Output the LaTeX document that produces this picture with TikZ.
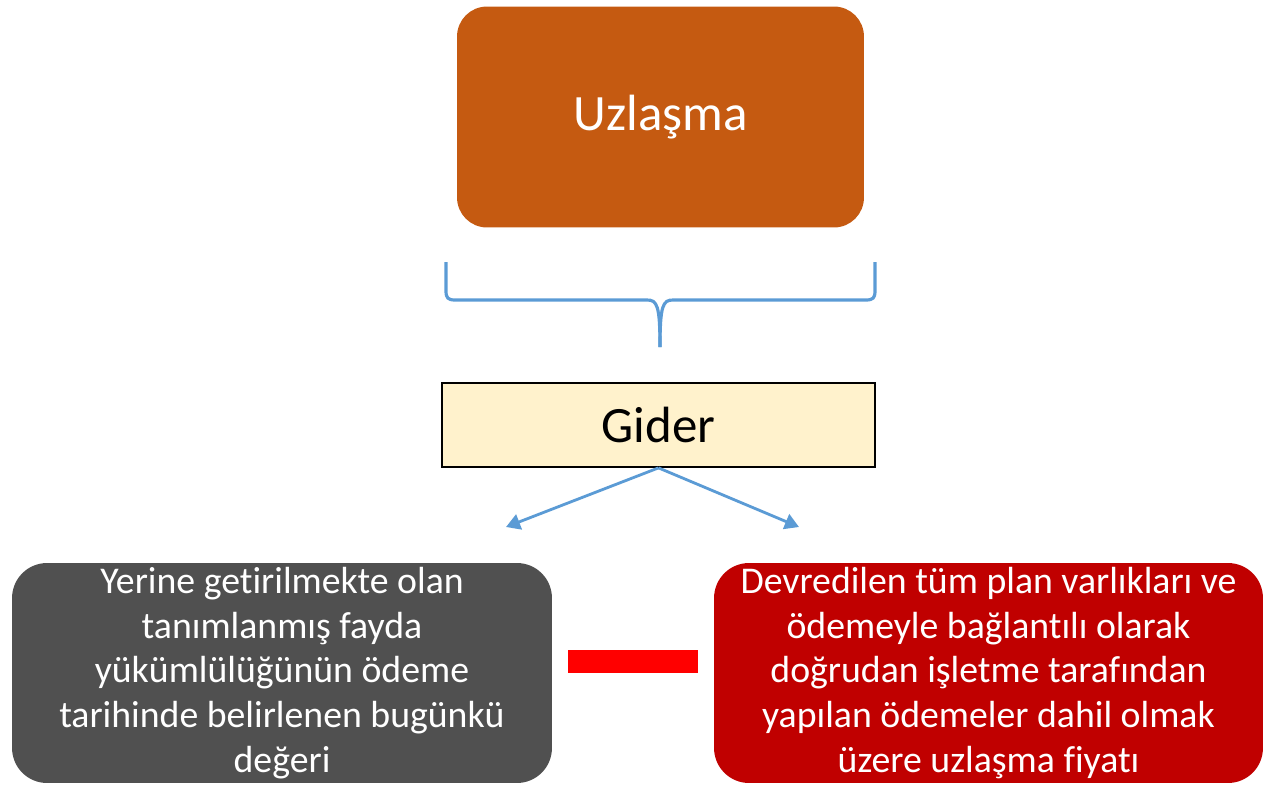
\documentclass[tikz,border=0pt]{standalone}
\usepackage{fontspec}
\setmainfont[Ligatures=NoCommon]{Carlito}
\usetikzlibrary{arrows.meta}

\definecolor{uzlorange}{HTML}{C55A11}
\definecolor{gidercream}{HTML}{FFF2CC}
\definecolor{linkblue}{HTML}{5B9BD5}
\definecolor{leftgray}{HTML}{505050}
\definecolor{rightred}{HTML}{C00000}

\begin{document}
\begin{tikzpicture}[
    x=0.02cm, y=-0.02cm,
    topbox/.style={rectangle,rounded corners=0.6cm,fill=uzlorange,text=white,
        minimum width=8.14cm,minimum height=4.42cm,font=\fontsize{29}{34}\selectfont},
    giderbox/.style={rectangle,draw=black,line width=1pt,fill=gidercream,
        minimum width=8.66cm,minimum height=1.68cm,font=\fontsize{29}{34}\selectfont},
    textbox/.style={rectangle,rounded corners=0.7cm,text=white,align=center,
        minimum height=4.4cm,inner sep=0pt,font=\fontsize{21.5}{25.5}\selectfont},
    arrow/.style={-{Triangle[length=8pt,width=9pt]},linkblue,line width=1.6pt},
    brace/.style={linkblue,line width=1.8pt}
]
\useasboundingbox (0,0) rectangle (1265,788);

\node[topbox] (uzlasma) at (660.5,117) {Uzlaşma};
\node[giderbox] (gider) at (658.5,425) {Gider};
\node[textbox,fill=leftgray,minimum width=10.8cm] (bugun) at (282,673)
    {Yerine getirilmekte olan\\tanımlanmış fayda\\yükümlülüğünün ödeme\\tarihinde belirlenen bugünkü\\değeri};
\node[textbox,fill=rightred,minimum width=10.98cm] (fiyat) at (988.5,673)
    {Devredilen tüm plan varlıkları ve\\ödemeyle bağlantılı olarak\\doğrudan işletme tarafından\\yapılan ödemeler dahil olmak\\üzere uzlaşma fiyatı};
\node[rectangle,fill=red,inner sep=0pt,minimum width=2.6cm,minimum height=0.46cm] (eksi) at (633,661.5) {};

% brace under the top box
\coordinate (bl) at (446,262);
\coordinate (br) at (875,262);
\coordinate (btip) at (660,347);
\draw[brace] (bl) -- (446,291) .. controls (446,298) and (448,300) .. (455,300)
    -- (647,300) .. controls (657,300) and (660,305) .. (btip);
\draw[brace] (br) -- (875,291) .. controls (875,298) and (873,300) .. (866,300)
    -- (673,300) .. controls (663,300) and (660,305) .. (btip);

\coordinate (solok) at (506,527);
\coordinate (sagok) at (799,527);
\draw[arrow] (gider.south) -- (solok);
\draw[arrow] (gider.south) -- (sagok);

\end{tikzpicture}
\end{document}
